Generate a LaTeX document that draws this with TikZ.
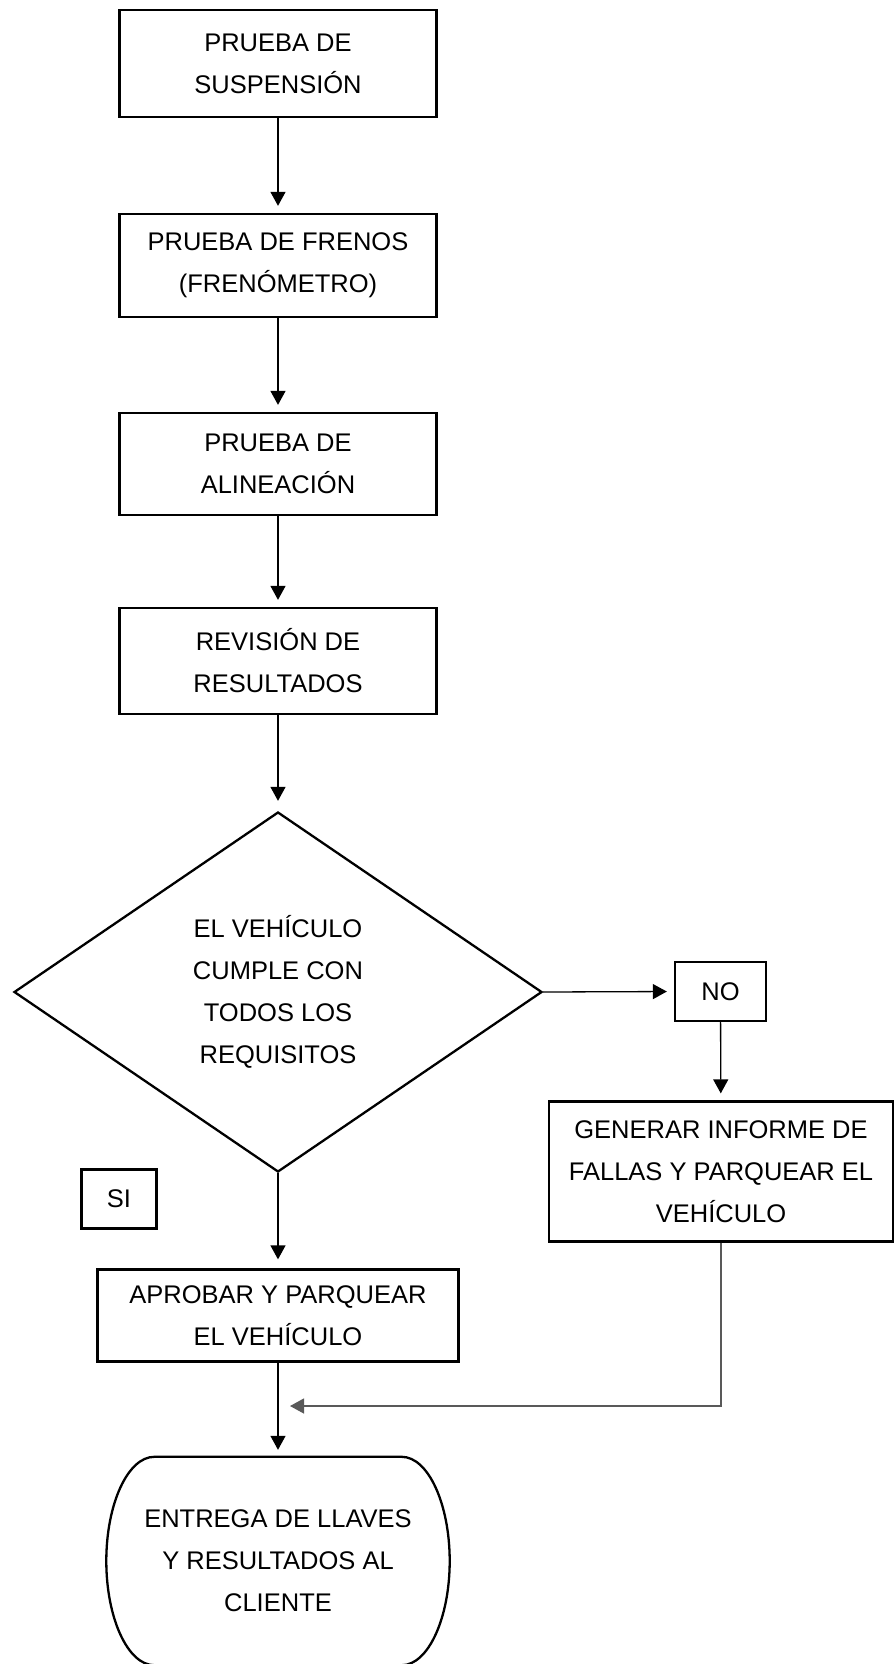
\documentclass[tikz,border=0pt]{standalone}
\usepackage{fontspec}
\setmainfont{Liberation Sans}
\usetikzlibrary{arrows.meta,shapes.geometric}

\begin{document}
\begin{tikzpicture}[x=1pt,y=-1pt,
  every node/.style={font=\fontsize{25.5}{42}\selectfont,align=center,inner sep=0pt},
  proc/.style={rectangle,draw=black,line width=2.3pt},
  decision/.style={diamond,draw=black,line width=2.3pt,minimum width=528pt,minimum height=360pt},
  flow/.style={-{Triangle[length=14pt,width=15pt]},line width=1.3pt,shorten >=7pt},
  back/.style={flow,draw=black!65}]
% \draw[help lines] (0,0) grid[step=100] (895,1664);
\useasboundingbox (0,0) rectangle (895,1664);
\node (susp) [proc,minimum width=317pt,minimum height=107pt] at (278,63.5) {PRUEBA DE\\SUSPENSIÓN};
\node (brakes) [proc,minimum width=317pt,minimum height=103pt] at (278,265.5) {PRUEBA DE FRENOS\\(FRENÓMETRO)};
\node (align) [proc,minimum width=317pt,minimum height=102pt] at (278,464) {PRUEBA DE\\ALINEACIÓN};
\node (review) [proc,minimum width=317pt,minimum height=106pt] at (278,661) {REVISIÓN DE\\RESULTADOS};
\node (check) [decision] at (278,992) {EL VEHÍCULO\\CUMPLE CON\\TODOS LOS\\REQUISITOS};
\node (no) [proc,minimum width=91pt,minimum height=59pt] at (720.5,991.5) {NO};
\node (fail) [proc,minimum width=344pt,minimum height=140pt] at (721,1171.5) {GENERAR INFORME DE\\FALLAS Y PARQUEAR EL\\VEHÍCULO};
\node (yes) [proc,minimum width=75pt,minimum height=59pt] at (119,1199) {SI};
\node (approve) [proc,minimum width=361pt,minimum height=92pt] at (278,1315.5) {APROBAR Y PARQUEAR\\EL VEHÍCULO};
\node (deliver) [minimum width=343pt,minimum height=208pt] at (278,1561) {ENTREGA DE LLAVES\\Y RESULTADOS AL\\CLIENTE};
\coordinate (merge) at (290,1406);
%
\draw[line width=2.3pt] ([xshift=48pt]deliver.north west) -- ([xshift=-48pt]deliver.north east)
  .. controls ([xshift=-21.5pt]deliver.north east) and ([yshift=57pt]deliver.east) .. (deliver.east)
  .. controls ([yshift=-57pt]deliver.east) and ([xshift=-21.5pt]deliver.south east) .. ([xshift=-48pt]deliver.south east)
  -- ([xshift=48pt]deliver.south west)
  .. controls ([xshift=21.5pt]deliver.south west) and ([yshift=-57pt]deliver.west) .. (deliver.west)
  .. controls ([yshift=57pt]deliver.west) and ([xshift=21.5pt]deliver.north west) .. cycle;
%
\draw[flow] (susp) -- (brakes);
\draw[flow] (brakes) -- (align);
\draw[flow] (align) -- (review);
\draw[flow,shorten >=10pt] (review) -- (check);
\draw[flow] (check.east) -- (no.west);
\draw[flow] (no) -- (fail);
\draw[flow,shorten >=9pt] (check.south) -- (approve.north);
\draw[flow] (approve) -- (deliver.north);
\draw[back,shorten >=0pt] (fail.south) |- (merge);
\end{tikzpicture}
\end{document}
